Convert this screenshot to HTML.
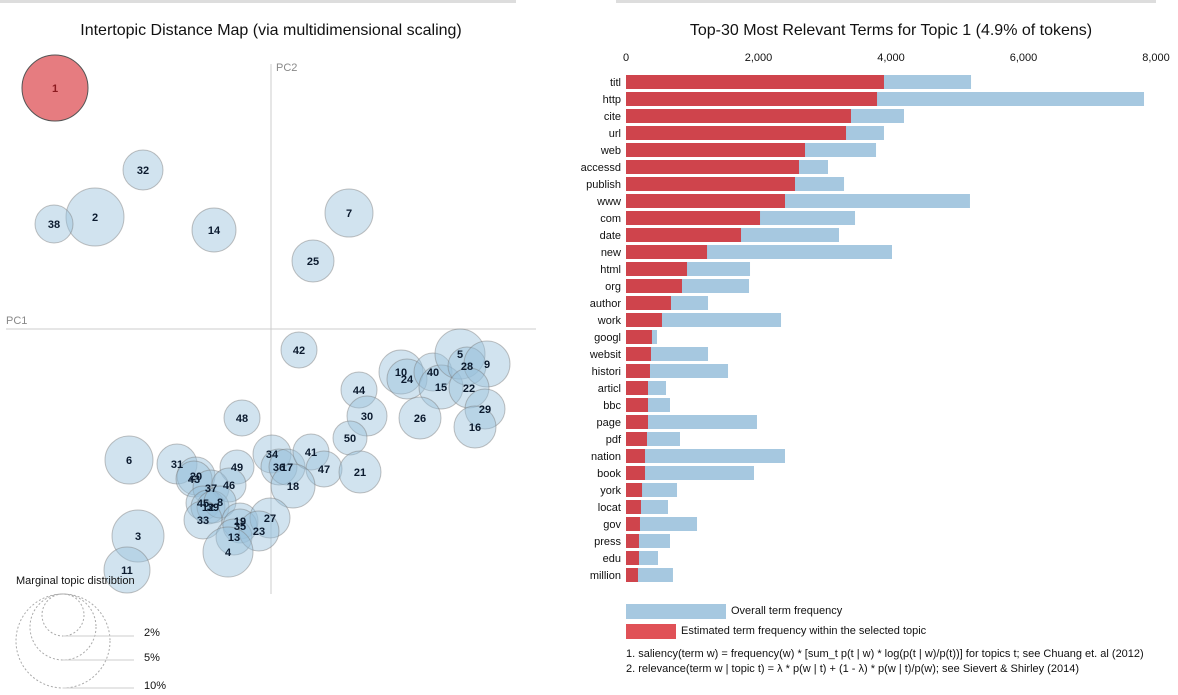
<!DOCTYPE html>
<html><head><meta charset="utf-8">
<style>
body{margin:0;background:#fff;font-family:"Liberation Sans",sans-serif;}
svg{display:block}
</style></head>
<body>
<svg id="chart" width="1178" height="695" xmlns="http://www.w3.org/2000/svg">
<rect x="0" y="0" width="516" height="3" fill="#ddd"/>
<rect x="616" y="0" width="540" height="3" fill="#ddd"/>
<text x="271" y="35" text-anchor="middle" font-size="16" fill="#111">Intertopic Distance Map (via multidimensional scaling)</text>
<text x="891" y="35" text-anchor="middle" font-size="16" fill="#111">Top-30 Most Relevant Terms for Topic 1 (4.9% of tokens)</text>
<line x1="6" y1="329" x2="536" y2="329" stroke="#ccc"/>
<line x1="271" y1="64" x2="271" y2="594" stroke="#ccc"/>
<text x="6" y="324" font-size="11" fill="#888">PC1</text>
<text x="276" y="71" font-size="11" fill="#888">PC2</text>
<g id="bubbles"></g>
<g id="legendL">
<text x="16" y="584" font-size="11" fill="#111">Marginal topic distribtion</text>
<circle cx="63" cy="641" r="47" fill="none" stroke="#aaa" stroke-dasharray="2,2"/>
<circle cx="63" cy="627" r="33" fill="none" stroke="#aaa" stroke-dasharray="2,2"/>
<circle cx="63" cy="615" r="21" fill="none" stroke="#aaa" stroke-dasharray="2,2"/>
<line x1="63" y1="636" x2="134" y2="636" stroke="#ccc"/>
<line x1="63" y1="660" x2="134" y2="660" stroke="#ccc"/>
<line x1="63" y1="688" x2="134" y2="688" stroke="#ccc"/>
<text x="144" y="636" font-size="11" fill="#111">2%</text>
<text x="144" y="661" font-size="11" fill="#111">5%</text>
<text x="144" y="689" font-size="11" fill="#111">10%</text>
</g>
<g id="bars"></g>
<rect x="626" y="604" width="100" height="15" fill="#a6c8e0"/>
<text x="731" y="614" font-size="11" fill="#111">Overall term frequency</text>
<rect x="626" y="624" width="50" height="15" fill="#e05157"/>
<text x="681" y="634" font-size="11" fill="#111">Estimated term frequency within the selected topic</text>
<text x="626" y="657" font-size="11" fill="#111">1. saliency(term w) = frequency(w) * [sum_t p(t | w) * log(p(t | w)/p(t))] for topics t; see Chuang et. al (2012)</text>
<text x="626" y="672" font-size="11" fill="#111">2. relevance(term w | topic t) = λ * p(w | t) + (1 - λ) * p(w | t)/p(w); see Sievert &amp; Shirley (2014)</text>
</svg>
<script>
const topicIds=[1,32,2,38,14,7,25,42,44,30,50,10,24,40,15,5,28,9,22,29,16,26,48,6,31,20,43,49,34,36,17,41,47,21,18,37,46,45,12,39,8,33,19,35,13,27,23,4,3,11];
const pc1=[-2.16,-1.28,-1.76,-2.17,-0.57,0.78,0.42,0.28,0.88,0.96,0.79,1.30,1.36,1.62,1.70,1.89,1.96,2.16,1.98,2.14,2.04,1.49,-0.29,-1.42,-0.94,-0.75,-0.77,-0.34,0.01,0.08,0.16,0.40,0.53,0.89,0.22,-0.60,-0.42,-0.68,-0.63,-0.58,-0.51,-0.68,-0.31,-0.31,-0.37,-0.01,-0.12,-0.43,-1.33,-1.44];
const pc2=[2.41,1.59,1.12,1.05,0.99,1.16,0.68,-0.21,-0.61,-0.87,-1.09,-0.43,-0.50,-0.43,-0.58,-0.25,-0.37,-0.35,-0.59,-0.80,-0.98,-0.89,-0.89,-1.31,-1.35,-1.47,-1.50,-1.38,-1.25,-1.38,-1.38,-1.23,-1.40,-1.43,-1.57,-1.59,-1.56,-1.74,-1.78,-1.78,-1.73,-1.91,-1.92,-1.97,-2.08,-1.89,-2.02,-2.23,-2.07,-2.41];
const radius=[33,20,29,19,22,24,21,18,18,20,17,22,20,19,22,25,19,23,20,20,21,21,18,24,20,19,18,17,19,18,18,18,18,21,22,18,17,17,17,16,16,19,18,17,18,20,20,25,26,23];
const xS=v=>271+v*100, yS=v=>329-v*100;
const NS='http://www.w3.org/2000/svg';
const bg=document.getElementById('bubbles');
topicIds.forEach((id,i)=>{
  const c=document.createElementNS(NS,'circle');
  c.setAttribute('cx',xS(pc1[i]));c.setAttribute('cy',yS(pc2[i]));c.setAttribute('r',radius[i]);
  c.setAttribute('fill',id===1?'rgba(222,80,86,0.75)':'rgba(154,192,220,0.45)');
  c.setAttribute('stroke',id===1?'#555':'rgba(120,120,120,0.45)');
  
  
  bg.appendChild(c);
});
topicIds.forEach((id,i)=>{
  const t=document.createElementNS(NS,'text');
  t.setAttribute('x',xS(pc1[i]));t.setAttribute('y',yS(pc2[i])+4);
  t.setAttribute('text-anchor','middle');t.setAttribute('font-size','11');t.setAttribute('font-weight','bold');
  t.setAttribute('fill',id===1?'#8b1a1f':'#0b1a2e');
  t.textContent=id;
  
  
  bg.appendChild(t);
});
const terms=['titl','http','cite','url','web','accessd','publish','www','com','date','new','html','org','author','work','googl','websit','histori','articl','bbc','page','pdf','nation','book','york','locat','gov','press','edu','million'];
const overall=[5208,7819,4196,3894,3774,3049,3291,5192,3457,3215,4015,1872,1857,1238,2340,468,1238,1540,604,664,1977,815,2400,1932,770,634,1072,664,483,709];
const topicFreq=[3894,3789,3396,3321,2702,2611,2551,2400,2023,1736,1223,921,845,679,543,392,377,362,332,332,332,317,287,287,242,226,211,196,196,181];
const ticks=[0,2000,4000,6000,8000];
const bx=v=>626+v*530/8000, by=i=>75+i*17;
const bgp=document.getElementById('bars');
ticks.forEach(t=>{
  const e=document.createElementNS(NS,'text');
  e.setAttribute('x',bx(t));e.setAttribute('y',61);e.setAttribute('text-anchor','middle');e.setAttribute('font-size','11');e.setAttribute('fill','#111');
  e.textContent=t.toLocaleString('en-US');
  
  
  bgp.appendChild(e);
});
terms.forEach((w,i)=>{
  const r1=document.createElementNS(NS,'rect');
  r1.setAttribute('x',bx(0));r1.setAttribute('y',by(i));r1.setAttribute('width',bx(overall[i])-bx(0));r1.setAttribute('height',14);r1.setAttribute('fill','#a6c8e0');
  
  
  bgp.appendChild(r1);
  const r2=document.createElementNS(NS,'rect');
  r2.setAttribute('x',bx(0));r2.setAttribute('y',by(i));r2.setAttribute('width',bx(topicFreq[i])-bx(0));r2.setAttribute('height',14);r2.setAttribute('fill','#cf444c');
  
  
  bgp.appendChild(r2);
  const t=document.createElementNS(NS,'text');
  t.setAttribute('x',621);t.setAttribute('y',by(i)+11);t.setAttribute('text-anchor','end');t.setAttribute('font-size','11');t.setAttribute('fill','#111');
  t.textContent=w;
  
  
  bgp.appendChild(t);
});
</script>
</body></html>
